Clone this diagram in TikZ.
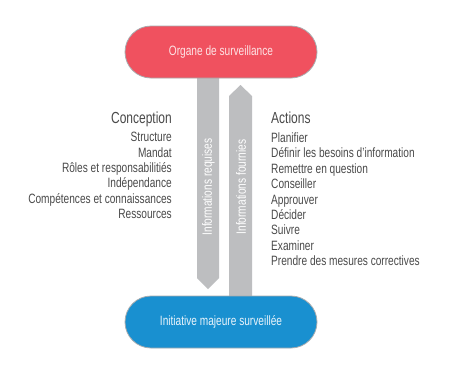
\documentclass[tikz,border=0pt]{standalone}
\usepackage{fontspec}
\setmainfont{Liberation Sans}[FakeStretch=0.75]
\begin{document}
\begin{tikzpicture}[x=1pt,y=-1pt,
  pill/.style={draw=pillborder,line width=0.8pt,rounded corners=26pt,minimum width=192pt,minimum height=52pt,inner sep=0pt,font=\fontsize{13.5}{15}\selectfont},
  flow/.style={fill=flowgrey,draw=none},
  flowtext/.style={text=white,font=\fontsize{13.5}{15}\selectfont,rotate=90,inner sep=0pt},
  head/.style={text=txtgrey,font=\fontsize{16}{18}\selectfont,inner sep=0pt},
  item/.style={text=txtgrey,font=\fontsize{13.5}{15}\selectfont,inner sep=0pt}]
\definecolor{pillborder}{HTML}{A7ABAE}
\definecolor{flowgrey}{HTML}{BDBEC0}
\definecolor{txtgrey}{HTML}{4A4A4A}
\definecolor{topred}{HTML}{F0515F}
\definecolor{botblue}{HTML}{1990D0}
\definecolor{toptxt}{HTML}{FDE3E5}
\definecolor{bottxt}{HTML}{EAF4FB}
\useasboundingbox[fill=white] (0,0) rectangle (453,373);
% arrows
\coordinate (dtip) at (208,289);
\coordinate (utip) at (240.5,85);
\path[flow] (197,70) -- (219,70) -- (219,278) -- (dtip) -- (197,278) -- cycle;
\path[flow] (229,305) -- (229,96) -- (utip) -- (252,96) -- (252,305) -- cycle;
\node[flowtext] (req) at (208.5,187) {Informations requises};
\node[flowtext] (fou) at (241,187) {Informations fournies};
% pills
\node[pill,fill=topred,text=toptxt] (top) at (221,52) {Organe de surveillance};
\node[pill,fill=botblue,text=bottxt] (bot) at (221,322) {Initiative majeure surveillée};
% left list
\node[head,anchor=base east] (conc) at (172,123) {Conception};
\foreach \t [count=\i] in {Structure,Mandat,Rôles et responsabilitiés,Indépendance,Compétences et connaissances,Ressources}
  \node[item,anchor=base east] (l\i) at (172,{126.3+15.4*\i}) {\t};
% right list
\node[head,anchor=base west] (act) at (271,123) {Actions};
\foreach \t [count=\i] in {Planifier,Définir les besoins d’information,Remettre en question,Conseiller,Approuver,Décider,Suivre,Examiner,Prendre des mesures correctives}
  \node[item,anchor=base west] (r\i) at (271,{127+15.4*\i}) {\t};
\end{tikzpicture}
\end{document}
